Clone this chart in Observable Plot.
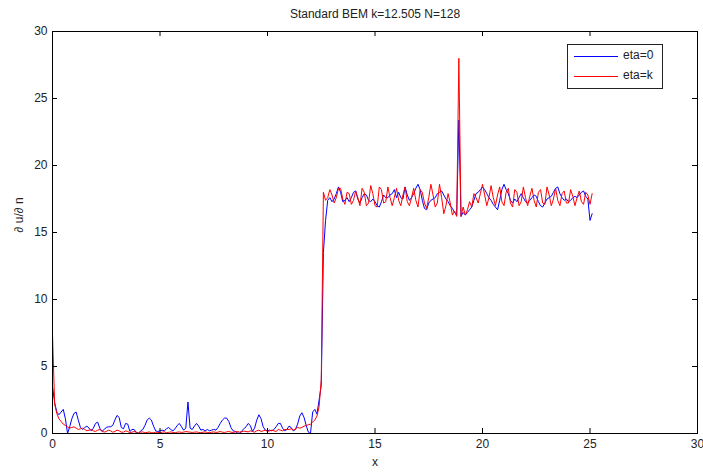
<!DOCTYPE html>
<html>
<head>
<meta charset="utf-8">
<script src="https://cdn.jsdelivr.net/npm/d3@7"></script>
<script src="https://cdn.jsdelivr.net/npm/@observablehq/plot@0.6"></script>
<style>
  html, body { margin: 0; padding: 0; background: #fff; }
  #wrap { position: relative; width: 703px; height: 472px; font-family: "Liberation Sans", Arial, Helvetica, sans-serif; }
  #legend { position: absolute; left: 567px; top: 44px; width: 94px; height: 43px; border: 1px solid #222; background: #fff; font-size: 12px; color: #222; }
  .item { position: absolute; left: 6px; height: 14px; }
  .item .sw { position: absolute; left: 0; top: 7px; width: 44px; height: 0; border-top: 1px solid; }
  .item .lb { position: absolute; left: 49px; top: -1px; white-space: nowrap; }
</style>
</head>
<body>
<div id="wrap"></div>
<script>
// ---- data ----
const chartTitle = "Standard BEM k=12.505 N=128";
const xLabel = "x";
const yLabel = "\u2202 u/\u2202 n";
const seriesNames = ["eta=0", "eta=k"];
const seriesColors = ["#0000ff", "#ff0000"];
const xTicks = [0, 5, 10, 15, 20, 25, 30];
const yTicks = [0, 5, 10, 15, 20, 25, 30];

// sample grids: x = 0.0 .. 12.5 and 12.6 .. 25.1, step 0.1
const lowX = d3.range(126).map(i => i / 10);
const highX = d3.range(126).map(i => 12.6 + i / 10);

const blueLow = [
  3.5, 2.3, 1.6, 1.4, 1.6, 1.8, 1.1, 0.0, 0.5, 1.1,
  1.5, 1.6, 1.0, 0.45, 0.3, 0.45, 0.55, 0.4, 0.2, 0.4,
  0.75, 0.85, 0.4, 0.15, 0.3, 0.45, 0.5, 0.5, 0.6, 1.0,
  1.35, 1.2, 0.45, 0.35, 0.75, 0.7, 0.15, 0.3, 0.3, 0.05,
  0.0, 0.2, 0.3, 0.6, 1.0, 1.15, 1.0, 0.55, 0.2, 0.15,
  0.2, 0.25, 0.2, 0.35, 0.45, 0.3, 0.2, 0.35, 0.6, 0.75,
  0.5, 0.25, 0.4, 2.35, 0.4, 0.3, 0.55, 0.75, 0.55, 0.25,
  0.3, 0.2, 0.3, 0.2, 0.25, 0.3, 0.25, 0.45, 0.75, 1.0,
  1.15, 1.15, 0.9, 0.45, 0.2, 0.15, 0.05, 0.0, 0.2, 0.35,
  0.5, 0.75, 0.6, 0.15, 0.4, 1.0, 1.4, 1.1, 0.5, 0.25,
  0.2, 0.25, 0.2, 0.3, 0.5, 0.75, 0.75, 0.4, 0.2, 0.3,
  0.55, 0.45, 0.2, 0.3, 0.7, 1.3, 1.55, 1.2, 0.6, 0.1,
  0.0, 1.6, 1.8, 1.45, 2.5, 3.6
];
const redLow = [
  7.4, 2.2, 1.5, 1.1, 0.9, 0.7, 0.6, 0.5, 0.4, 0.45,
  0.5, 0.4, 0.3, 0.35, 0.4, 0.3, 0.2, 0.25, 0.3, 0.2,
  0.15, 0.25, 0.3, 0.2, 0.1, 0.15, 0.25, 0.2, 0.1, 0.15,
  0.25, 0.2, 0.1, 0.1, 0.2, 0.15, 0.05, 0.1, 0.15, 0.1,
  0.05, 0.1, 0.12, 0.05, 0.08, 0.12, 0.06, 0.05, 0.1, 0.08,
  0.05, 0.1, 0.12, 0.06, 0.08, 0.12, 0.08, 0.05, 0.1, 0.12,
  0.08, 0.1, 0.15, 0.12, 0.1, 0.08, 0.1, 0.12, 0.08, 0.06,
  0.1, 0.12, 0.08, 0.06, 0.1, 0.12, 0.08, 0.1, 0.15, 0.1,
  0.08, 0.12, 0.15, 0.1, 0.08, 0.12, 0.15, 0.1, 0.12, 0.18,
  0.15, 0.12, 0.2, 0.15, 0.1, 0.2, 0.25, 0.15, 0.2, 0.25,
  0.15, 0.2, 0.25, 0.2, 0.15, 0.3, 0.25, 0.2, 0.3, 0.3,
  0.3, 0.35, 0.25, 0.35, 0.45, 0.4, 0.45, 0.55, 0.6, 0.65,
  0.7, 0.85, 1.0, 1.3, 2.0, 4.0
];
const blueHigh = [
  13.5, 15.9, 17.4, 17.6, 17.3, 17.5, 17.9, 18.4, 18.0, 17.3,
  17.4, 17.6, 17.3, 17.6, 18.0, 18.1, 17.5, 17.2, 17.6, 17.9,
  17.8, 17.4, 17.3, 17.5, 17.3, 17.0, 16.9, 17.3, 17.8, 17.6,
  17.6, 17.8, 17.9, 18.2, 17.6, 18.0, 17.6, 17.5, 18.4, 17.8,
  17.4, 17.6, 17.9, 18.3, 18.6, 18.2, 17.4, 16.8, 16.7, 17.2,
  17.4, 17.5, 17.6, 17.9, 18.0, 18.1, 17.8, 17.5, 17.3, 17.0,
  16.8, 16.5, 16.3, 23.4, 16.2, 16.5, 16.3, 16.5, 16.7, 16.9,
  17.4, 17.9, 18.0, 18.2, 18.4, 18.2, 17.9, 17.6, 17.4, 17.1,
  16.9, 16.7, 17.4, 18.2, 18.6, 18.2, 17.9, 17.4, 17.2, 17.5,
  17.3, 17.6, 17.9, 17.6, 17.3, 17.2, 17.4, 17.6, 17.8, 17.7,
  17.3, 17.0, 16.9, 17.2, 17.5, 17.6, 17.7, 18.0, 18.3, 18.4,
  17.9, 17.6, 17.4, 17.5, 17.3, 17.4, 17.6, 17.7, 17.6, 17.8,
  18.0, 18.1, 17.7, 17.5, 15.9, 16.4
];
const redHigh = [
  18.0, 17.4, 17.6, 18.2, 17.8, 17.2, 17.6, 18.3, 18.3, 17.5,
  17.1, 18.0, 17.9, 17.1, 17.4, 18.1, 17.6, 17.0, 18.3, 18.0,
  17.0, 17.2, 18.5, 17.9, 17.0, 16.9, 18.4, 18.2, 17.2, 17.3,
  18.4, 17.6, 17.0, 17.6, 18.3, 17.4, 17.0, 17.8, 18.4, 17.3,
  17.0, 17.6, 18.3, 17.4, 16.9, 18.2, 18.0, 17.2, 16.8, 17.6,
  18.6, 17.8, 16.9, 17.2, 18.6, 17.6, 16.4, 17.0, 17.9, 17.2,
  16.3, 16.6, 16.2, 28.0, 16.2, 16.9, 16.3, 16.7, 17.3, 16.9,
  17.9, 17.6, 17.2, 17.9, 18.6, 17.8, 17.0, 17.6, 18.5, 17.6,
  17.0, 17.8, 18.4, 17.3, 17.0, 18.0, 18.3, 17.2, 16.9, 18.2,
  18.0, 17.0, 17.3, 18.4, 17.6, 17.0, 17.7, 18.3, 17.4, 16.9,
  18.0, 18.2, 17.2, 17.1, 18.4, 17.8, 17.0, 17.5, 18.3, 17.4,
  17.0, 17.9, 18.1, 17.2, 17.2, 18.2, 17.7, 17.0, 17.6, 18.1,
  17.3, 17.1, 18.0, 17.8, 17.1, 17.9
];

// ---- build tables ----
const xs = lowX.concat(highX);
const blueData = xs.map((x, i) => ({x, y: blueLow.concat(blueHigh)[i]}));
const redData = xs.map((x, i) => ({x, y: redLow.concat(redHigh)[i]}));

const W = 703, H = 472;
const mL = 52, mR = 6, mT = 31, mB = 39;
const innerW = W - mL - mR, innerH = H - mT - mB;
const tick = 5;

const chart = Plot.plot({
  width: W, height: H,
  marginLeft: mL, marginRight: mR, marginTop: mT, marginBottom: mB,
  x: {domain: [0, 30]},
  y: {domain: [0, 30]},
  style: {fontFamily: "'Liberation Sans', Arial, Helvetica, sans-serif", fontSize: "12px", color: "#222", background: "#fff", overflow: "visible"},
  marks: [
    Plot.line(blueData, {x: "x", y: "y", stroke: seriesColors[0], strokeWidth: 1}),
    Plot.line(redData, {x: "x", y: "y", stroke: seriesColors[1], strokeWidth: 1}),
    Plot.frame({stroke: "#000", strokeWidth: 1}),
    Plot.axisX(xTicks, {anchor: "bottom", tickSize: 0, tickPadding: 6, label: null, fontSize: 12}),
    Plot.axisY(yTicks, {anchor: "left", tickSize: 0, tickPadding: 5, label: null, fontSize: 12}),
    Plot.tickX(xTicks, {x: d => d, insetTop: innerH - tick, stroke: "#000"}),
    Plot.tickX(xTicks, {x: d => d, insetBottom: innerH - tick, stroke: "#000"}),
    Plot.tickY(yTicks, {y: d => d, insetRight: innerW - tick, stroke: "#000"}),
    Plot.tickY(yTicks, {y: d => d, insetLeft: innerW - tick, stroke: "#000"}),
    Plot.text([chartTitle], {frameAnchor: "top", dy: -17, lineAnchor: "middle", fontSize: 12, fill: "#222"}),
    Plot.text([xLabel], {frameAnchor: "bottom", dy: 29, lineAnchor: "middle", fontSize: 12, fill: "#222"}),
    Plot.text([yLabel], {frameAnchor: "left", dx: -33, rotate: -90, lineAnchor: "middle", fontSize: 12, fill: "#222"})
  ]
});

const wrap = document.getElementById("wrap");
wrap.appendChild(chart);

const legend = document.createElement("div");
legend.id = "legend";
seriesNames.forEach((name, i) => {
  const it = document.createElement("div");
  it.className = "item";
  it.style.top = (4 + i * 20) + "px";
  const sw = document.createElement("div");
  sw.className = "sw";
  sw.style.borderTopColor = seriesColors[i];
  const lb = document.createElement("div");
  lb.className = "lb";
  lb.textContent = name;
  it.appendChild(sw);
  it.appendChild(lb);
  legend.appendChild(it);
});
wrap.appendChild(legend);
</script>
</body>
</html>
